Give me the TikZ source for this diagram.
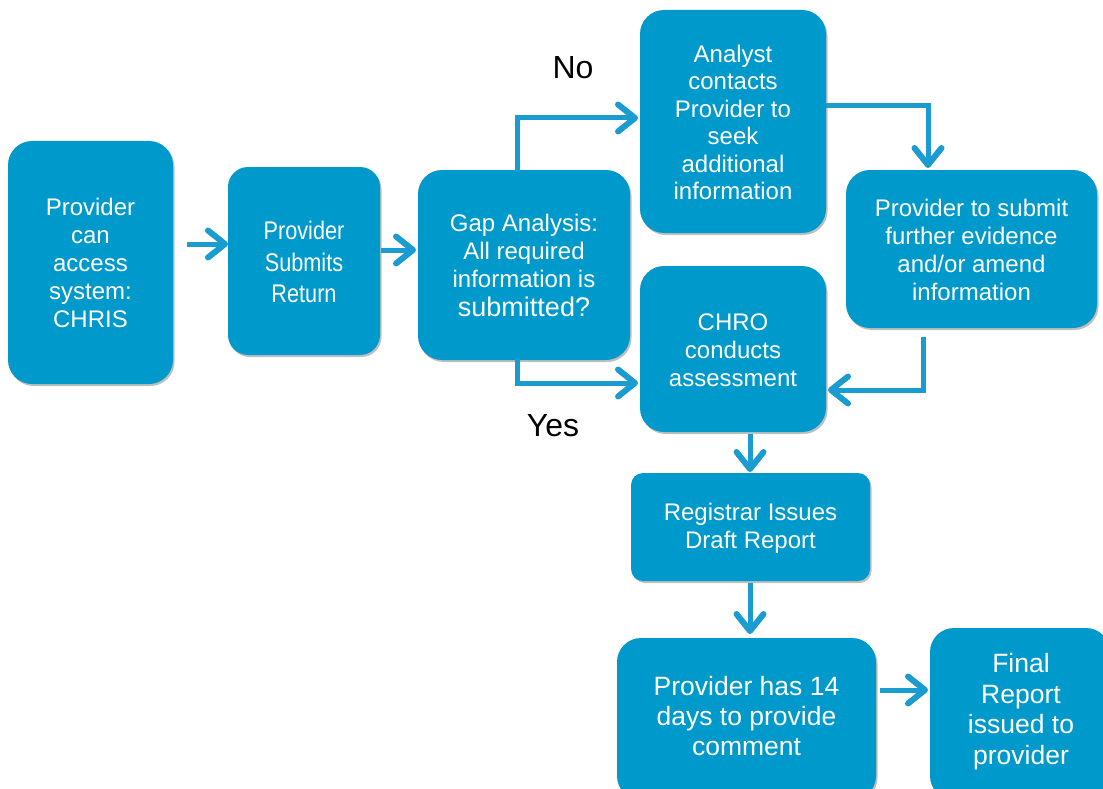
\documentclass[tikz,border=0pt]{standalone}
\usepackage{fontspec}
\setmainfont{Liberation Sans}
\newfontfamily\narrowfont[FakeStretch=0.85]{Liberation Sans}
\usetikzlibrary{arrows.meta,shadows}
\definecolor{boxblue}{HTML}{0099CC}
\definecolor{lineblue}{HTML}{1A9CD0}
\tikzset{
  flowbox/.style={fill=boxblue, draw=none, rounded corners=#1, text=white, align=center,
    drop shadow={shadow xshift=1.5pt, shadow yshift=-2pt, opacity=0.25, fill=black}},
  flowbox/.default=24pt,
  conn/.style={draw=lineblue, line width=5pt,
    -{Straight Barb[length=17pt,width=27pt,line width=6pt 0,round]}},
  lbl/.style={font=\fontsize{32}{36}\selectfont, text=black},
  boxtext/.style={align=center, text=white}
}
\begin{document}
\begin{tikzpicture}[x=1pt,y=-1pt]
\useasboundingbox (0,0) rectangle (1103,789);
% boxes
\path[flowbox] (8,141) rectangle (173,384);
\node[boxtext, font=\fontsize{24}{28}\selectfont] (b1) at (90.5,262.5) {Provider\\can\\access\\system:\\CHRIS};
\path[flowbox=20pt] (228,167) rectangle (380,355);
\node[boxtext, font=\narrowfont\fontsize{25.5}{31.5}\selectfont] (b2) at (304,262) {Provider\\Submits\\Return};
\path[flowbox] (418,170) rectangle (630,360);
\node[boxtext, font=\fontsize{24}{28}\selectfont] (b3) at (524,265) {Gap Analysis:\\All required\\information is\\[1pt]{\fontsize{27}{28}\selectfont submitted?}};
\path[flowbox] (640,10) rectangle (826,233);
\node[boxtext, font=\fontsize{24}{27.4}\selectfont] (b4) at (733,122.5) {Analyst\\contacts\\Provider to\\seek\\additional\\information};
\path[flowbox] (846,170) rectangle (1097,328);
\node[boxtext, font=\fontsize{24}{28}\selectfont] (b5) at (971.5,250) {Provider to submit\\further evidence\\and/or amend\\information};
\path[flowbox] (640,266) rectangle (826,432);
\node[boxtext, font=\fontsize{24}{28}\selectfont] (b6) at (733,350) {CHRO\\conducts\\assessment};
\path[flowbox=12pt] (631,473) rectangle (870,581);
\node[boxtext, font=\fontsize{24}{28}\selectfont] (b7) at (750.5,528) {Registrar Issues\\Draft Report};
\path[flowbox] (617,638) rectangle (876,800);
\node[boxtext, font=\fontsize{26.5}{30}\selectfont] (b8) at (746.5,716) {Provider has 14\\days to provide\\comment};
\path[flowbox] (930,628) rectangle (1110,800);
\node[boxtext, font=\fontsize{26.5}{30.7}\selectfont] (b9) at (1021,711.5) {Final\\Report\\issued to\\provider};
% anchor coordinates
\coordinate (b1e) at (187,244);
\coordinate (b2w) at (228,244);
\coordinate (b2e) at (381,250);
\coordinate (b3w) at (416,250);
\coordinate (b3n) at (517,172);
\coordinate (b3s) at (517,358);
\coordinate (b4w) at (638,118);
\coordinate (b6w) at (638,383);
\coordinate (b4e) at (826,106);
\coordinate (b5n) at (928,168);
\coordinate (b5s) at (923,337);
\coordinate (b6e) at (828,390);
\coordinate (b6s) at (750,434);
\coordinate (b7n) at (750,472);
\coordinate (b7s) at (750,583);
\coordinate (b8n) at (750,634);
\coordinate (b8e) at (880,690);
\coordinate (b9w) at (928,690);
% connectors
\draw[conn] (b1e) -- (b2w);
\draw[conn] (b2e) -- (b3w);
\draw[conn] (b3n) |- (b4w);
\draw[conn] (b3s) |- (b6w);
\draw[conn] (b4e) -| (b5n);
\draw[conn] (b5s) |- (b6e);
\draw[conn] (b6s) -- (b7n);
\draw[conn] (b7s) -- (b8n);
\draw[conn] (b8e) -- (b9w);
% labels
\node[lbl] (no) at (573,68) {No};
\node[lbl] (yes) at (553,426) {Yes};
\end{tikzpicture}
\end{document}
